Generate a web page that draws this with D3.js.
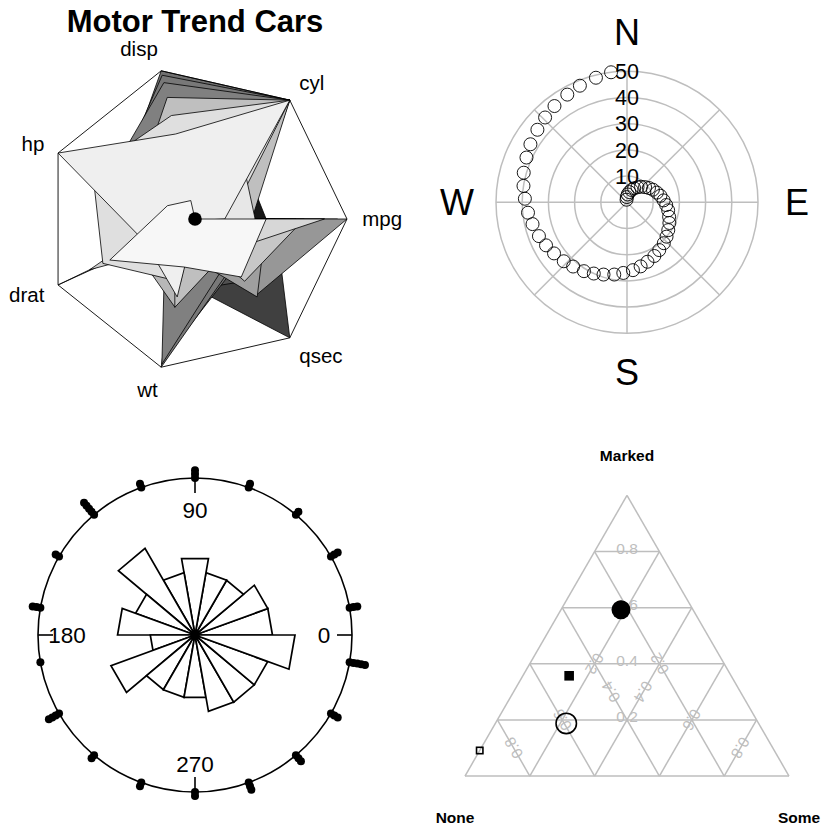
<!DOCTYPE html>
<html lang="en">
<head>
<meta charset="UTF-8">
<title>Motor Trend Cars</title>
<script src="https://d3js.org/d3.v7.min.js"></script>
<style>
  body { margin: 0; background: #fff; }
  text { font-family: "Liberation Sans", Arial, Helvetica, sans-serif; }
</style>
</head>
<body>
<script>
// ---- panel 1: mtcars spider plot ----
const carNames = ["Mazda RX4","Mazda RX4 Wag","Datsun 710","Hornet 4 Drive","Hornet Sportabout","Valiant","Duster 360","Merc 240D","Merc 230","Merc 280","Merc 280C","Merc 450SE","Merc 450SL","Merc 450SLC","Cadillac Fleetwood","Lincoln Continental","Chrysler Imperial","Fiat 128","Honda Civic","Toyota Corolla","Toyota Corona","Dodge Challenger","AMC Javelin","Camaro Z28","Pontiac Firebird","Fiat X1-9","Porsche 914-2","Lotus Europa","Ford Pantera L","Ferrari Dino","Maserati Bora","Volvo 142E"];
const mpg  = [21.0,21.0,22.8,21.4,18.7,18.1,14.3,24.4,22.8,19.2,17.8,16.4,17.3,15.2,10.4,10.4,14.7,32.4,30.4,33.9,21.5,15.5,15.2,13.3,19.2,27.3,26.0,30.4,15.8,19.7,15.0,21.4];
const cyl  = [6,6,4,6,8,6,8,4,4,6,6,8,8,8,8,8,8,4,4,4,4,8,8,8,8,4,4,4,8,6,8,4];
const disp = [160,160,108,258,360,225,360,146.7,140.8,167.6,167.6,275.8,275.8,275.8,472,460,440,78.7,75.7,71.1,120.1,318,304,350,400,79,120.3,95.1,351,145,301,121];
const hp   = [110,110,93,110,175,105,245,62,95,123,123,180,180,180,205,215,230,66,52,65,97,150,150,245,175,66,91,113,264,175,335,109];
const drat = [3.90,3.90,3.85,3.08,3.15,2.76,3.21,3.69,3.92,3.92,3.92,3.07,3.07,3.07,2.93,3.00,3.23,4.08,4.93,4.22,3.70,2.76,3.15,3.73,3.08,4.08,4.43,3.77,4.22,3.62,3.54,4.11];
const wt   = [2.620,2.875,2.320,3.215,3.440,3.460,3.570,3.190,3.150,3.440,3.440,4.070,3.730,3.780,5.250,5.424,5.345,2.200,1.615,1.835,2.465,3.520,3.435,3.840,3.845,1.935,2.140,1.513,3.170,2.770,3.570,2.780];
const qsec = [16.46,17.02,18.61,19.44,17.02,20.22,15.84,20.00,22.90,18.30,18.90,17.40,17.60,18.00,17.98,17.82,17.42,19.47,18.52,19.90,20.01,16.87,17.30,15.41,17.05,18.90,16.70,16.90,14.50,15.50,14.60,18.60];
const starVars = ["mpg","cyl","disp","hp","drat","wt","qsec"];

// ---- panel 2: spiral polar plot ----
const spiralRadius  = [1,2,3,4,5,6,7,8,9,10,11,12,13,14,15,16,17,18,19,20,21,22,23,24,25,26,27,28,29,30,31,32,33,34,35,36,37,38,39,40,41,42,43,44,45,46,47,48,49,50];
const spiralBearing = [-10,-2,5,13,20,27,35,42,50,57,64,72,79,87,94,101,109,116,124,131,138,146,153,161,168,175,183,190,198,205,212,220,227,235,242,249,257,264,272,279,286,294,301,309,316,323,331,338,346,353];
const ringTicks = [10,20,30,40,50];
const compass = ["N","E","S","W"];

// ---- panel 3: circular data + rose ----
const roseAngles = [10,30,50,70,90,110,130,150,170,190,210,230,250,270,290,310,330,350];
const roseCounts = [3,3,2,2,3,2,5,2,3,1,4,2,2,2,3,3,3,5];
const roseTicks = [0,90,180,270];

// ---- panel 4: ternary (Arthritis improvement) ----
const arthGroups = ["Treated Female","Treated Male","Placebo Female","Placebo Male"];
const arthNone   = [6,7,19,10];
const arthSome   = [5,2,7,0];
const arthMarked = [16,5,6,1];
const ternTicks = [0.2,0.4,0.6,0.8];

const svg = d3.select("body").append("svg")
    .attr("width", 825)
    .attr("height", 827);

// ================= panel 1 =================
const cols = {mpg, cyl, disp, hp, drat, wt, qsec};
const st = {cx: 195, cy: 219, R: 152};
const g1 = svg.append("g");
const radial = starVars.map(v => d3.scaleLinear().domain(d3.extent(cols[v])).range([0, st.R]));
const ang = starVars.map((v, k) => k * 2 * Math.PI / starVars.length);
const shade = d3.scaleLinear().domain([0, carNames.length]).range(["#000000", "#ffffff"]);
const polar1 = (r, a) => [st.cx + r * Math.cos(a), st.cy - r * Math.sin(a)];

carNames.forEach((name, i) => {
    const pts = starVars.map((v, k) => polar1(radial[k](cols[v][i]), ang[k]));
    g1.append("polygon")
        .attr("points", pts.map(p => p.join(",")).join(" "))
        .attr("fill", shade(i))
        .attr("stroke", "#000")
        .attr("stroke-width", 0.8)
        .append("title").text(name);
});

// key outline
g1.append("polygon")
    .attr("points", ang.map(a => polar1(st.R, a).join(",")).join(" "))
    .attr("fill", "none")
    .attr("stroke", "#000")
    .attr("stroke-width", 0.9);

g1.append("circle").attr("cx", st.cx).attr("cy", st.cy).attr("r", 6.8).attr("fill", "#000");

const capH = 0.716 * 20.5;
starVars.forEach((v, k) => {
    const [lx, ly] = polar1(1.1 * st.R, ang[k]);
    const adj = (1 - Math.sin(ang[k])) / 2;
    g1.append("text")
        .attr("x", lx)
        .attr("y", ly + adj * capH)
        .attr("text-anchor", Math.cos(ang[k]) >= 0 ? "start" : "end")
        .attr("font-size", 20.5)
        .text(v);
});

g1.append("text")
    .attr("x", 195).attr("y", 32)
    .attr("text-anchor", "middle")
    .attr("font-size", 31)
    .attr("font-weight", "bold")
    .text("Motor Trend Cars");

// ================= panel 2 =================
const pc = {cx: 627, cy: 202.3};
const g2 = svg.append("g").attr("transform", `translate(${pc.cx},${pc.cy})`);
const rScale = d3.scaleLinear().domain([0, 50]).range([0, 131]);
const grey = "#bebebe";

ringTicks.forEach(t => {
    g2.append("circle").attr("r", rScale(t)).attr("fill", "none")
        .attr("stroke", grey).attr("stroke-width", 1.5);
});
d3.range(0, 360, 45).forEach(b => {
    const a = b * Math.PI / 180;
    g2.append("line").attr("x1", 0).attr("y1", 0)
        .attr("x2", rScale(50) * Math.sin(a)).attr("y2", -rScale(50) * Math.cos(a))
        .attr("stroke", grey).attr("stroke-width", 1.5);
});
ringTicks.forEach(t => {
    g2.append("text").attr("x", 0).attr("y", -rScale(t))
        .attr("dy", "0.36em")
        .attr("text-anchor", "middle")
        .attr("font-size", 21.5)
        .text(t);
});
compass.forEach((c, i) => {
    const a = i * Math.PI / 2;
    g2.append("text")
        .attr("x", 170 * Math.sin(a)).attr("y", -170 * Math.cos(a))
        .attr("dy", "0.36em")
        .attr("text-anchor", "middle")
        .attr("font-size", 36)
        .text(c);
});
g2.selectAll("circle.pt")
    .data(spiralRadius.map((r, i) => ({r, b: spiralBearing[i] * Math.PI / 180})))
    .join("circle")
    .attr("class", "pt")
    .attr("cx", d => rScale(d.r) * Math.sin(d.b))
    .attr("cy", d => -rScale(d.r) * Math.cos(d.b))
    .attr("r", 6.5)
    .attr("fill", "none")
    .attr("stroke", "#000")
    .attr("stroke-width", 0.9);

// ================= panel 3 =================
const rc = {cx: 195, cy: 635, R: 157};
const g3 = svg.append("g").attr("transform", `translate(${rc.cx},${rc.cy})`);
const petal = d3.scaleSqrt().domain([0, d3.max(roseCounts)]).range([0, 100]);
const pol3 = (r, deg) => [r * Math.cos(deg * Math.PI / 180), -r * Math.sin(deg * Math.PI / 180)];

g3.append("circle").attr("r", rc.R).attr("fill", "none").attr("stroke", "#000").attr("stroke-width", 1.6);

roseTicks.forEach(t => {
    const [x1, y1] = pol3(rc.R, t), [x2, y2] = pol3(rc.R - 15, t);
    g3.append("line").attr("x1", x1).attr("y1", y1).attr("x2", x2).attr("y2", y2)
        .attr("stroke", "#000").attr("stroke-width", 1.6);
    const [lx, ly] = pol3(rc.R - 28 - (t === 180 ? 1 : 0), t);
    g3.append("text").attr("x", lx).attr("y", ly + (t === 90 ? 4 : 0))
        .attr("dy", "0.36em")
        .attr("text-anchor", "middle")
        .attr("font-size", 22.5)
        .text(t);
});

roseAngles.forEach((c, i) => {
    const r = petal(roseCounts[i]);
    const pts = [[0, 0], pol3(r, c - 10), pol3(r, c + 10)];
    g3.append("polygon").attr("points", pts.map(p => p.join(",")).join(" "))
        .attr("fill", "#fff").attr("stroke", "#000").attr("stroke-width", 1.7)
        .attr("stroke-linejoin", "miter");
});

roseAngles.forEach((c, i) => {
    d3.range(roseCounts[i]).forEach(j => {
        const [x, y] = pol3(rc.R + j * 3.9, c);
        g3.append("circle").attr("cx", x).attr("cy", y).attr("r", 4).attr("fill", "#000");
    });
});

// ================= panel 4 =================
const tx = d3.scaleLinear().domain([0, 1]).range([465, 789]);
const side = 324, tH = side * Math.sqrt(3) / 2, yBase = 776;
const tern = (n, s, m) => [tx(s + m / 2), yBase - m * tH];
const g4 = svg.append("g");
const seg = (a, b) => g4.append("line")
    .attr("x1", a[0]).attr("y1", a[1]).attr("x2", b[0]).attr("y2", b[1])
    .attr("stroke", grey).attr("stroke-width", 1.5);

seg(tern(1, 0, 0), tern(0, 1, 0));
seg(tern(0, 1, 0), tern(0, 0, 1));
seg(tern(0, 0, 1), tern(1, 0, 0));
ternTicks.forEach(v => {
    seg(tern(1 - v, 0, v), tern(0, 1 - v, v));   // marked
    seg(tern(v, 1 - v, 0), tern(v, 0, 1 - v));   // none
    seg(tern(1 - v, v, 0), tern(0, v, 1 - v));   // some
});

const tickText = (p, rot, label) => g4.append("text")
    .attr("transform", `translate(${p[0]},${p[1]}) rotate(${rot})`)
    .attr("dy", "0.36em")
    .attr("text-anchor", "middle")
    .attr("font-size", 15.5)
    .attr("fill", grey)
    .text(label);
ternTicks.forEach(v => {
    const m = tern((1 - v) / 2, (1 - v) / 2, v);
    tickText([m[0], m[1] - 3], 0, v);
    tickText(tern(v, (1 - v) / 2, (1 - v) / 2), -120, v);
    tickText(tern((1 - v) / 2, v, (1 - v) / 2), 120, v);
});

const corner = (x, y, label) => g4.append("text")
    .attr("x", x).attr("y", y).attr("dy", "0.36em")
    .attr("text-anchor", "middle")
    .attr("font-size", 15.5).attr("font-weight", "bold")
    .text(label);
corner(627, 455, "Marked");
corner(455, 817, "None");
corner(799, 817, "Some");

arthGroups.forEach((gname, i) => {
    const tot = arthNone[i] + arthSome[i] + arthMarked[i];
    const [x, y] = tern(arthNone[i] / tot, arthSome[i] / tot, arthMarked[i] / tot);
    const treated = gname.startsWith("Treated");
    const female = gname.endsWith("Female");
    let mark;
    if (female) {
        mark = g4.append("circle").attr("cx", x).attr("cy", y).attr("r", treated ? 9.5 : 10.2);
    } else {
        const s = treated ? 9.6 : 6.4;
        mark = g4.append("rect").attr("x", x - s / 2).attr("y", y - s / 2).attr("width", s).attr("height", s);
    }
    mark.attr("fill", treated ? "#000" : "none")
        .attr("stroke", treated ? "none" : "#000")
        .attr("stroke-width", 1.6);
    mark.append("title").text(gname);
});
</script>
</body>
</html>
